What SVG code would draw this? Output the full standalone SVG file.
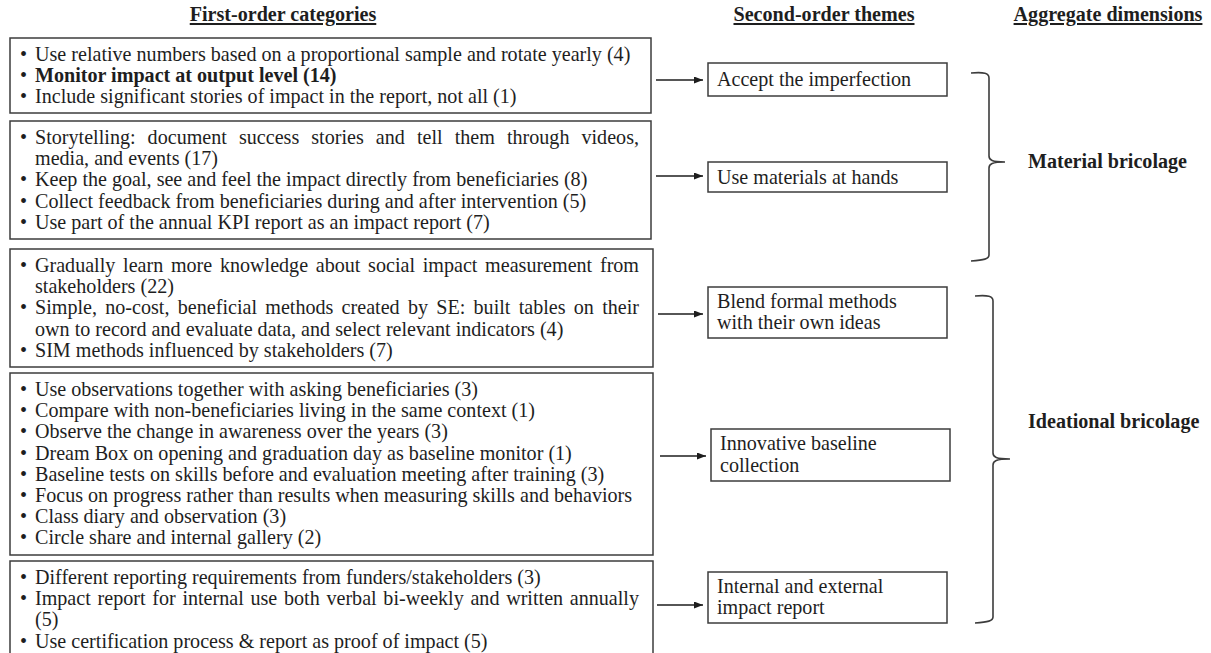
<svg xmlns="http://www.w3.org/2000/svg" width="1211" height="653" viewBox="0 0 1211 653">
  <style>
    text { font-family: "Liberation Serif", "Times New Roman", serif; font-size: 20.1px; fill: #1e1e1e; }
    .hdr { font-weight: bold; text-decoration: underline; text-anchor: middle; }
    .agg { font-weight: bold; }
    .b { font-weight: bold; }
    .box { fill: #ffffff; stroke: #3c3c3c; stroke-width: 1.5; }
    .arrow { stroke: #1e1e1e; stroke-width: 1.3; fill: none; }
    .brace { stroke: #3c3c3c; stroke-width: 1.6; fill: none; }
  </style>
  <defs>
    <marker id="head" markerUnits="userSpaceOnUse" markerWidth="9" markerHeight="7" refX="9" refY="3.5" orient="auto">
      <path d="M0,0 L9,3.5 L0,7 z" fill="#1e1e1e"/>
    </marker>
  </defs>
  <rect width="1211" height="653" fill="#ffffff"/>

  <!-- column headers -->
  <g id="headers">
    <text class="hdr" x="283" y="21">First-order categories</text>
    <text class="hdr" x="824" y="21">Second-order themes</text>
    <text class="hdr" x="1108" y="21">Aggregate dimensions</text>
  </g>

  <!-- first-order categories -->
  <g id="cat-1">
    <rect class="box" x="10" y="38" width="641" height="75"/>
    <text x="20" y="61">•</text><text x="35" y="61">Use relative numbers based on a proportional sample and rotate yearly (4)</text>
    <text x="20" y="82.2">•</text><text class="b" x="35" y="82.2">Monitor impact at output level (14)</text>
    <text x="20" y="103.4">•</text><text x="35" y="103.4">Include significant stories of impact in the report, not all (1)</text>
  </g>

  <g id="cat-2">
    <rect class="box" x="10" y="121" width="641" height="118"/>
    <text x="20" y="144">•</text><text x="35" y="144" word-spacing="7" textLength="604" lengthAdjust="spacing">Storytelling: document success stories and tell them through videos,</text>
    <text x="35" y="165.2">media, and events (17)</text>
    <text x="20" y="186.4">•</text><text x="35" y="186.4">Keep the goal, see and feel the impact directly from beneficiaries (8)</text>
    <text x="20" y="207.6">•</text><text x="35" y="207.6">Collect feedback from beneficiaries during and after intervention (5)</text>
    <text x="20" y="228.8">•</text><text x="35" y="228.8">Use part of the annual KPI report as an impact report (7)</text>
  </g>

  <g id="cat-3">
    <rect class="box" x="10" y="249" width="643" height="118"/>
    <text x="20" y="272">•</text><text x="35" y="272" word-spacing="2.7" textLength="604" lengthAdjust="spacing">Gradually learn more knowledge about social impact measurement from</text>
    <text x="35" y="293.2">stakeholders (22)</text>
    <text x="20" y="314.4">•</text><text x="35" y="314.4" word-spacing="3.2" textLength="604" lengthAdjust="spacing">Simple, no-cost, beneficial methods created by SE: built tables on their</text>
    <text x="35" y="335.6">own to record and evaluate data, and select relevant indicators (4)</text>
    <text x="20" y="356.8">•</text><text x="35" y="356.8">SIM methods influenced by stakeholders (7)</text>
  </g>

  <g id="cat-4">
    <rect class="box" x="10" y="373" width="643" height="182"/>
    <text x="20" y="396">•</text><text x="35" y="396">Use observations together with asking beneficiaries (3)</text>
    <text x="20" y="417.2">•</text><text x="35" y="417.2">Compare with non-beneficiaries living in the same context (1)</text>
    <text x="20" y="438.4">•</text><text x="35" y="438.4">Observe the change in awareness over the years (3)</text>
    <text x="20" y="459.6">•</text><text x="35" y="459.6">Dream Box on opening and graduation day as baseline monitor (1)</text>
    <text x="20" y="480.8">•</text><text x="35" y="480.8">Baseline tests on skills before and evaluation meeting after training (3)</text>
    <text x="20" y="502">•</text><text x="35" y="502">Focus on progress rather than results when measuring skills and behaviors</text>
    <text x="20" y="523.2">•</text><text x="35" y="523.2">Class diary and observation (3)</text>
    <text x="20" y="544.4">•</text><text x="35" y="544.4">Circle share and internal gallery (2)</text>
  </g>

  <g id="cat-5">
    <rect class="box" x="10" y="561" width="643" height="100"/>
    <text x="20" y="584">•</text><text x="35" y="584">Different reporting requirements from funders/stakeholders (3)</text>
    <text x="20" y="605.2">•</text><text x="35" y="605.2" word-spacing="1.7" textLength="604" lengthAdjust="spacing">Impact report for internal use both verbal bi-weekly and written annually</text>
    <text x="35" y="626.4">(5)</text>
    <text x="20" y="647.6">•</text><text x="35" y="647.6">Use certification process &amp; report as proof of impact (5)</text>
  </g>

  <!-- second-order themes -->
  <g id="theme-accept">
    <rect class="box" x="708" y="63" width="239" height="33"/>
    <text x="717" y="86">Accept the imperfection</text>
  </g>
  <g id="theme-materials">
    <rect class="box" x="708" y="162" width="239" height="30"/>
    <text x="717" y="183.5">Use materials at hands</text>
  </g>
  <g id="theme-blend">
    <rect class="box" x="708" y="287" width="239" height="51"/>
    <text x="717" y="307.5">Blend formal methods</text>
    <text x="717" y="329">with their own ideas</text>
  </g>
  <g id="theme-baseline">
    <rect class="box" x="711" y="429" width="239" height="52"/>
    <text x="720" y="450">Innovative baseline</text>
    <text x="720" y="471.5">collection</text>
  </g>
  <g id="theme-report">
    <rect class="box" x="708" y="572" width="239" height="51"/>
    <text x="717" y="592.5">Internal and external</text>
    <text x="717" y="614">impact report</text>
  </g>

  <!-- aggregate dimensions -->
  <g id="dim-material">
    <text class="agg" x="1028" y="168">Material bricolage</text>
  </g>
  <g id="dim-ideational">
    <text class="agg" x="1028" y="428">Ideational bricolage</text>
  </g>

  <!-- connectors: arrows and braces -->
  <g id="connectors">
    <line class="arrow" x1="656" y1="80" x2="703" y2="80" marker-end="url(#head)"/>
    <line class="arrow" x1="656" y1="176" x2="703" y2="176" marker-end="url(#head)"/>
    <line class="arrow" x1="658" y1="314" x2="703" y2="314" marker-end="url(#head)"/>
    <line class="arrow" x1="660" y1="456" x2="706" y2="456" marker-end="url(#head)"/>
    <line class="arrow" x1="657" y1="605" x2="703" y2="605" marker-end="url(#head)"/>
    <path class="brace" d="M971,73 C984,72 989,73 989,78 L989,156 C989,160 992,162 1005,162 C992,162 989,164 989,168 L989,255 C989,259 984,260 971,261"/>
    <path class="brace" d="M975,296 C988,295 993,296 993,301 L993,453 C993,457 996,459 1010,459 C996,459 993,461 993,465 L993,617 C993,621 988,622 975,623"/>
  </g>
</svg>
